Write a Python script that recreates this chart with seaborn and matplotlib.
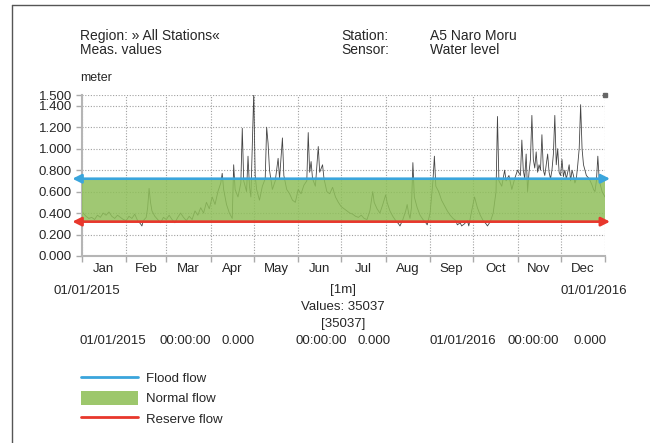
import matplotlib.pyplot as plt
import seaborn as sns
from matplotlib.lines import Line2D
from matplotlib.patches import Patch

# water level (meter); x = days since 01/01/2015 00:00
days = [0, 1, 3, 5, 7, 9, 11, 13, 15, 17, 19, 21, 23, 25, 27, 29, 31,
        33, 35, 37, 39, 41, 42, 43, 45, 46, 47, 48, 49, 51, 53, 55, 57, 59,
        61, 63, 65, 67, 69, 71, 73, 75, 77, 79, 81, 83, 85, 87, 89, 91, 93, 95, 97, 98, 99,
        101, 103, 105, 106, 107, 109, 111, 112, 113, 115, 116, 117, 118, 120, 121, 122,
        124, 126, 128, 129, 130, 131, 133, 135, 137, 138, 140, 141, 143, 145, 147, 149,
        151, 153, 155, 157, 158, 159, 160, 161, 163, 165, 166, 168, 169, 171, 173, 175,
        177, 179, 181, 183, 185, 187, 189, 191, 193, 195, 197, 199, 201, 203, 204, 206,
        208, 210, 212, 213, 215, 217, 219, 221, 222, 224, 226, 227, 228, 229, 230, 231,
        232, 234, 236, 238, 240, 241, 243, 245, 246, 247, 249, 251, 253, 255, 257, 259,
        261, 262, 264, 265, 267, 269, 270, 272, 274, 276, 278, 280, 282, 283, 285, 287,
        289, 290, 291, 293, 295, 296, 298, 300, 302, 304, 306, 307, 308, 309, 310, 311,
        312, 313, 314, 315, 316, 317, 318, 319, 320, 321, 322, 323, 324, 325, 326, 327,
        328, 329, 330, 331, 332, 333, 334, 335, 336, 337, 338, 339, 340, 341, 342, 343,
        344, 345, 346, 347, 348, 349, 350, 351, 352, 354, 356, 357, 358, 359, 360, 361,
        363, 365]
level = [0.43, 0.40, 0.37, 0.35, 0.36, 0.34, 0.38, 0.36, 0.40, 0.38, 0.41, 0.37, 0.35, 0.38, 0.36, 0.34, 0.33,
         0.37, 0.35, 0.39, 0.33, 0.30, 0.28, 0.33, 0.36, 0.45, 0.63, 0.50, 0.42, 0.37, 0.34, 0.31, 0.36, 0.34,
         0.38, 0.34, 0.31, 0.36, 0.40, 0.36, 0.33, 0.37, 0.34, 0.42, 0.38, 0.45, 0.40, 0.50, 0.44, 0.55, 0.48, 0.60, 0.68, 0.77, 0.62,
         0.48, 0.40, 0.35, 0.85, 0.62, 0.55, 0.68, 1.19, 0.70, 0.60, 0.93, 0.65, 0.55, 1.52, 0.75, 0.62,
         0.52, 0.65, 0.72, 1.20, 1.05, 0.80, 0.62, 0.70, 0.91, 0.72, 1.10, 0.75, 0.62, 0.58, 0.52, 0.50,
         0.62, 0.58, 0.66, 0.70, 1.15, 0.78, 0.88, 0.72, 0.65, 1.02, 0.78, 0.85, 0.72, 0.60, 0.58, 0.64,
         0.55, 0.50, 0.46, 0.44, 0.42, 0.40, 0.39, 0.37, 0.36, 0.38, 0.35, 0.34, 0.42, 0.60, 0.50, 0.44,
         0.40, 0.48, 0.57, 0.50, 0.42, 0.37, 0.33, 0.30, 0.28, 0.34, 0.42, 0.48, 0.40, 0.35, 0.45, 0.87,
         0.55, 0.45, 0.38, 0.34, 0.31, 0.29, 0.40, 0.70, 0.93, 0.65, 0.60, 0.52, 0.47, 0.42, 0.38, 0.35,
         0.33, 0.29, 0.31, 0.28, 0.30, 0.33, 0.28, 0.42, 0.55, 0.45, 0.38, 0.33, 0.30, 0.28, 0.32, 0.40,
         0.60, 1.30, 0.70, 0.65, 0.80, 0.70, 0.75, 0.62, 0.72, 0.80, 0.75, 1.08, 0.80, 0.72, 0.95, 0.60,
         0.78, 0.90, 1.31, 0.90, 0.82, 0.97, 0.78, 0.85, 0.80, 1.13, 0.80, 0.75, 0.85, 0.95, 0.78, 0.72,
         0.80, 0.95, 1.31, 0.85, 1.00, 0.78, 0.75, 0.90, 0.74, 0.80, 0.72, 0.78, 0.85, 0.70, 0.80, 0.75,
         0.68, 0.72, 0.85, 1.00, 1.41, 1.00, 0.85, 0.80, 0.75, 0.72, 0.66, 0.62, 0.60, 0.70, 0.93, 0.70,
         0.60, 0.55]

flood_flow = 0.72
reserve_flow = 0.32

month_starts = [0, 31, 59, 90, 120, 151, 181, 212, 243, 273, 304, 334, 365]
month_names = ["Jan", "Feb", "Mar", "Apr", "May", "Jun",
               "Jul", "Aug", "Sep", "Oct", "Nov", "Dec"]
y_ticks = [0.0, 0.2, 0.4, 0.6, 0.8, 1.0, 1.2, 1.4, 1.5]

W, H = 650, 443


def fx(x):
    return x / W


def fy(y):
    return 1 - y / H


sns.set_style("white")
plt.rcParams["font.family"] = ["Liberation Sans", "DejaVu Sans"]
plt.rcParams["font.size"] = 9.5

fig = plt.figure(figsize=(6.5, 4.43), dpi=100)
ax = fig.add_axes([fx(81.7), fy(256), (605 - 81.7) / W, (256 - 95) / H])

blue = "#3aa5dc"
red = "#e8372c"
green = "#8fbf5a"

# measured series, normal-flow band drawn over it
sns.lineplot(x=days, y=level, ax=ax, color="#444444", linewidth=0.6, sort=False, zorder=2)
ax.fill_between([0, 365], reserve_flow, flood_flow, color=green, alpha=0.85, linewidth=0, zorder=3)

for lvl, col in [(flood_flow, blue), (reserve_flow, red)]:
    ax.annotate("", xy=(-6.5, lvl), xytext=(368.5, lvl),
                arrowprops=dict(arrowstyle="<|-|>", color=col, lw=1.9,
                                mutation_scale=13, shrinkA=0, shrinkB=0),
                annotation_clip=False, zorder=4)

ax.plot([365], [1.5], marker="s", ms=3, color="#666666", clip_on=False, zorder=5)

ax.set_xlim(0, 365)
ax.set_ylim(0, 1.5)
ax.set_xticks(month_starts)
ax.set_xticks([(a + b) / 2 for a, b in zip(month_starts[:-1], month_starts[1:])], minor=True)
ax.set_xticklabels([], minor=False)
ax.set_xticklabels(month_names, minor=True)
ax.set_yticks(y_ticks)
ax.set_yticklabels([f"{v:.3f}" for v in y_ticks])

ax.grid(True, which="major", color="#a0a0a0", linestyle=(0, (1, 1.5)), linewidth=0.8)
ax.set_axisbelow(True)
ax.tick_params(axis="x", which="major", length=4, width=1, color="#aaaaaa", bottom=True)
ax.tick_params(axis="x", which="minor", length=0, pad=5, bottom=True)
ax.tick_params(axis="y", length=4, width=1, color="#aaaaaa", pad=3, left=True, labelsize=9.5)
for side in ["top", "right"]:
    ax.spines[side].set_visible(False)
for side in ["left", "bottom"]:
    ax.spines[side].set_color("#b5b5b5")
    ax.spines[side].set_linewidth(1.5)
ax.set_xlabel("")
ax.set_ylabel("")

# page frame
fig.add_artist(Line2D([fx(12), fx(12)], [0, fy(5)], transform=fig.transFigure, color="#555555", lw=1))
fig.add_artist(Line2D([fx(12), 1], [fy(5), fy(5)], transform=fig.transFigure, color="#555555", lw=1))

# header
for x, y, s in [(80, 36, "Region: » All Stations«"), (80, 50, "Meas. values"),
                (341, 36, "Station:"), (341, 50, "Sensor:"),
                (430, 36, "A5 Naro Moru"), (430, 50, "Water level")]:
    fig.text(fx(x), fy(y), s, va="center", fontsize=10)
fig.text(fx(80), fy(78), "meter", va="center", fontsize=9)

# footer info
fig.text(fx(87), fy(291), "01/01/2015", ha="center", va="center")
fig.text(fx(594), fy(291), "01/01/2016", ha="center", va="center")
fig.text(fx(343), fy(290), "[1m]", ha="center", va="center")
fig.text(fx(343), fy(307), "Values: 35037", ha="center", va="center")
fig.text(fx(343), fy(324), "[35037]", ha="center", va="center")
for x, s in [(80, "01/01/2015"), (160, "00:00:00"), (222, "0.000"),
             (295, "00:00:00"), (358, "0.000"),
             (430, "01/01/2016"), (508, "00:00:00"), (574, "0.000")]:
    fig.text(fx(x), fy(341), s, va="center")

handles = [Line2D([], [], color=blue, lw=2),
           Patch(facecolor="#9dc76c", edgecolor="none"),
           Line2D([], [], color=red, lw=2)]
fig.legend(handles, ["Flood flow", "Normal flow", "Reserve flow"],
           loc="upper left", bbox_to_anchor=(fx(81), fy(371)),
           frameon=False, borderpad=0, borderaxespad=0,
           handlelength=4.3, handleheight=1.2, handletextpad=0.6, labelspacing=0.45)

fig.savefig("out.png", dpi=100)
